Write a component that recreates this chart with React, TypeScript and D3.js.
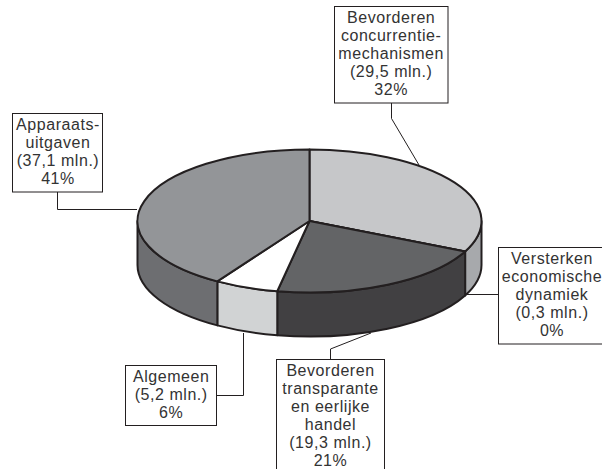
import React from "react";
import * as d3 from "d3";

const names = ["Bevorderen concurrentie-mechanismen", "Versterken economische dynamiek", "Bevorderen transparante en eerlijke handel", "Algemeen", "Apparaatsuitgaven"];
const percents = [32, 0, 21, 6, 41];
const topColors = ["#c6c7c9", "#636466", "#636466", "#ffffff", "#939598"];
const sideColors = ["#a7a9ac", "#414042", "#414042", "#d1d3d4", "#6d6e71"];
const boxLines = [
  ["Bevorderen", "concurrentie-", "mechanismen", "(29,5 mln.)", "32%"],
  ["Versterken", "economische", "dynamiek", "(0,3 mln.)", "0%"],
  ["Bevorderen", "transparante", "en eerlijke", "handel", "(19,3 mln.)", "21%"],
  ["Algemeen", "(5,2 mln.)", "6%"],
  ["Apparaats-", "uitgaven", "(37,1 mln.)", "41%"],
];
const boxes = [
  { x: 334.5, y: 6.5, w: 113.5, h: 96.5, tx: 391.2 },
  { x: 498.5, y: 247.5, w: 110, h: 96.5, tx: 552 },
  { x: 276.5, y: 359.5, w: 108, h: 120, tx: 330.5 },
  { x: 125.5, y: 365.5, w: 91, h: 60, tx: 171.2 },
  { x: 12.5, y: 113.5, w: 90, h: 78.5, tx: 58 },
];
const leaders = [
  [[391.5, 103], [391.5, 118.5], [419, 165]],
  [[498.5, 294.5], [465, 294.5]],
  [[330.5, 359.5], [330.5, 349], [371, 333]],
  [[216.5, 395.5], [243.5, 395.5], [243.5, 333]],
  [[57.5, 192], [57.5, 209.5], [137, 209.5]],
];

const cx = 309.5, cy = 221, rx = 172, ry = 71.5, depth = 44;
const ink = "#231f20";

const pie = d3.pie<number>().sort(null).startAngle(0).endAngle(2 * Math.PI);
const arcs = pie(percents);
const arcGen = d3.arc<d3.PieArcDatum<number>>().innerRadius(0).outerRadius(rx);

const px = (t: number) => cx + rx * Math.sin(t);
const py = (t: number) => cy - ry * Math.cos(t);

function sidePath(a0: number, a1: number) {
  const s = Math.max(a0, Math.PI / 2), e = Math.min(a1, (3 * Math.PI) / 2);
  if (e <= s) return null;
  return `M${px(s)},${py(s)}A${rx},${ry} 0 0 1 ${px(e)},${py(e)}L${px(e)},${py(e) + depth}A${rx},${ry} 0 0 0 ${px(s)},${py(s) + depth}Z`;
}

export default function App() {
  return (
    <svg width={602} height={469} style={{ position: "absolute", left: 0, top: 0, background: "#fff" }}>
      {leaders.map((l, i) => (
        <path key={i} d={d3.line()(l as [number, number][]) as string} fill="none" stroke={ink} strokeWidth={1} />
      ))}
      {arcs.map((a, i) => {
        const d = sidePath(a.startAngle, a.endAngle);
        return d ? <path key={i} d={d} fill={sideColors[i]} stroke={ink} strokeWidth={2} strokeLinejoin="round" /> : null;
      })}
      <g transform={`translate(${cx},${cy}) scale(1,${ry / rx})`}>
        {arcs.map((a, i) => (
          <path key={i} d={arcGen(a) as string} fill={topColors[i]} stroke={ink} strokeWidth={2} strokeLinejoin="round" style={{ vectorEffect: "non-scaling-stroke" }}>
            <title>{names[i]}</title>
          </path>
        ))}
      </g>
      {boxes.map((b, i) => (
        <g key={i}>
          <rect x={b.x} y={b.y} width={b.w} height={b.h} fill="#fff" stroke={ink} strokeWidth={1} />
          {boxLines[i].map((t, j) => (
            <text key={j} x={b.tx} y={b.y + 16.7 + j * 17.9} textAnchor="middle" fontFamily="'Liberation Sans'" fontSize={16} letterSpacing={0.55} fill="#333">
              {t}
            </text>
          ))}
        </g>
      ))}
    </svg>
  );
}
